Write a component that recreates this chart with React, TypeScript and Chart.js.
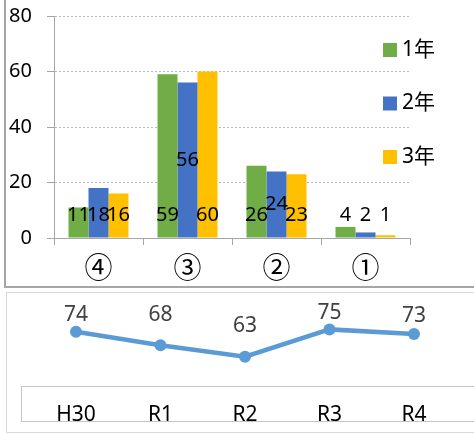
import React, { useEffect, useRef } from "react";
import { Chart, registerables } from "chart.js";

Chart.register(...registerables);

// ---- Data ----
const categories = ["④", "③", "②", "①"];
const seriesNames = ["1年", "2年", "3年"];
const year1 = [11, 59, 26, 4];
const year2 = [18, 56, 24, 2];
const year3 = [16, 60, 23, 1];
const yTicks = [0, 20, 40, 60, 80];

const lineLabels = ["H30", "R1", "R2", "R3", "R4"];
const lineValues = [74, 68, 63, 75, 73];

// ---- Styles ----
const COLORS = ["#70AD47", "#4472C4", "#FFC000"];
const LINE_COLOR = "#5B9BD5";
const FONT = "'Noto Sans', 'Noto Sans CJK JP', sans-serif";
const CJK_FONT = "'Noto Sans CJK JP', sans-serif";
// label placement (value units for bar labels; centered ones sit mid-bar)
const LABEL_BASE_VALUE = 8.3;
const LABEL_CENTERED = [
  [false, false, false, false],
  [false, true, true, false],
  [false, false, false, false],
];
// line label lift above point (px)
const LINE_LABEL_RAISE = [17, 30, 31, 16.5, 18];

const barLabelsPlugin = {
  id: "barLabels",
  afterDatasetsDraw(chart: any) {
    const { ctx } = chart;
    const y = chart.scales.y;
    ctx.save();
    ctx.font = `20px ${FONT}`;
    ctx.fillStyle = "#000";
    ctx.textAlign = "center";
    ctx.textBaseline = "middle";
    chart.data.datasets.forEach((ds: any, di: number) => {
      const meta = chart.getDatasetMeta(di);
      meta.data.forEach((bar: any, i: number) => {
        const v = ds.data[i];
        const py = LABEL_CENTERED[di][i]
          ? y.getPixelForValue(v / 2)
          : y.getPixelForValue(LABEL_BASE_VALUE);
        ctx.fillText(String(v), bar.x, py);
      });
    });
    ctx.restore();
  },
};

const legendPlugin = {
  id: "customLegend",
  afterDraw(chart: any) {
    const { ctx, chartArea } = chart;
    ctx.save();
    ctx.font = `21px ${FONT}`;
    ctx.textAlign = "left";
    ctx.textBaseline = "middle";
    chart.data.datasets.forEach((ds: any, i: number) => {
      const bx = chartArea.right - 27;
      const cy = 50 + i * 53.5;
      ctx.fillStyle = ds.backgroundColor;
      ctx.fillRect(bx, cy - 7, 14, 14);
      ctx.fillStyle = "#000";
      ctx.fillText(ds.label, bx + 19, cy);
    });
    ctx.restore();
  },
};

const lineLabelsPlugin = {
  id: "lineLabels",
  afterDatasetsDraw(chart: any) {
    const { ctx } = chart;
    ctx.save();
    ctx.font = `21px ${FONT}`;
    ctx.fillStyle = "#404040";
    ctx.textAlign = "center";
    ctx.textBaseline = "middle";
    const meta = chart.getDatasetMeta(0);
    meta.data.forEach((pt: any, i: number) => {
      ctx.fillText(String(chart.data.datasets[0].data[i]), pt.x, pt.y - LINE_LABEL_RAISE[i]);
    });
    ctx.restore();
  },
};

export default function App() {
  const barRef = useRef<HTMLCanvasElement>(null);
  const lineRef = useRef<HTMLCanvasElement>(null);

  useEffect(() => {
    const seriesData = [year1, year2, year3];
    const bar = new Chart(barRef.current as HTMLCanvasElement, {
      type: "bar",
      data: {
        labels: categories,
        datasets: seriesNames.map((name, i) => ({
          label: name,
          data: seriesData[i],
          backgroundColor: COLORS[i],
          borderWidth: 0,
          categoryPercentage: 0.674,
          barPercentage: 1,
        })),
      },
      options: {
        animation: false,
        responsive: false,
        devicePixelRatio: 1,
        layout: { padding: { top: 16, right: 64, bottom: 0, left: 0 } },
        plugins: { legend: { display: false }, tooltip: { enabled: false } },
        scales: {
          x: {
            grid: {
              display: true,
              drawOnChartArea: false,
              drawTicks: true,
              tickLength: 7,
              tickColor: "#a6a6a6",
            },
            border: { display: true, color: "#a6a6a6", width: 1 },
            ticks: {
              color: "#000",
              font: { size: 28, family: CJK_FONT },
              padding: 6,
            },
            afterFit: (s: any) => {
              s.height = 50;
            },
          },
          y: {
            min: 0,
            max: 80,
            afterBuildTicks: (s: any) => {
              s.ticks = yTicks.map((v) => ({ value: v }));
            },
            grid: {
              color: (c: any) => (c.tick && c.tick.value === 0 ? "rgba(0,0,0,0)" : "#b8b8b8"),
              tickColor: "#a6a6a6",
              tickLength: 7,
              tickBorderDash: [],
            },
            border: { display: true, color: "#a6a6a6", width: 1, dash: [2, 2] },
            ticks: {
              color: "#000",
              font: { size: 20, family: FONT },
              padding: 15,
            },
            afterFit: (s: any) => {
              s.width = 54;
              s.paddingTop = 0;
              s.paddingBottom = 0;
            },
          },
        },
      },
      plugins: [barLabelsPlugin, legendPlugin],
    } as any);

    const line = new Chart(lineRef.current as HTMLCanvasElement, {
      type: "line",
      data: {
        labels: lineLabels,
        datasets: [
          {
            label: "",
            data: lineValues,
            borderColor: LINE_COLOR,
            backgroundColor: LINE_COLOR,
            borderWidth: 4.5,
            pointRadius: 6,
            pointBackgroundColor: LINE_COLOR,
            pointBorderWidth: 0,
            tension: 0,
          },
        ],
      },
      options: {
        animation: false,
        responsive: false,
        devicePixelRatio: 1,
        layout: { padding: { top: 30, right: 17.75, bottom: 0, left: 33.75 } },
        plugins: { legend: { display: false }, tooltip: { enabled: false } },
        scales: {
          x: {
            offset: true,
            grid: { display: false },
            border: { display: false },
            ticks: {
              color: "#000",
              font: { size: 21, family: FONT },
              padding: 8,
            },
            afterFit: (s: any) => {
              s.height = 146 - 98.3;
            },
          },
          y: {
            display: false,
            min: 50,
            max: 80,
          },
        },
      },
      plugins: [lineLabelsPlugin],
    } as any);

    return () => {
      bar.destroy();
      line.destroy();
    };
  }, []);

  return (
    <div style={{ position: "absolute", left: 0, top: 0, width: 474, height: 434, overflow: "hidden", background: "#fff" }}>
      <div
        style={{
          position: "absolute",
          left: 4,
          top: -20,
          width: 520,
          height: 308,
          boxSizing: "border-box",
          border: "2px solid #a6a6a6",
        }}
      />
      <div
        style={{
          position: "absolute",
          left: 6,
          top: 292,
          width: 520,
          height: 141,
          boxSizing: "border-box",
          border: "1px solid #d9d9d9",
        }}
      />
      <div
        style={{
          position: "absolute",
          left: 21,
          top: 386,
          width: 520,
          height: 36,
          boxSizing: "border-box",
          border: "1px solid #c4c4c4",
        }}
      />
      <canvas ref={barRef} width={474} height={288} style={{ position: "absolute", left: 0, top: 0 }} />
      <canvas ref={lineRef} width={474} height={146} style={{ position: "absolute", left: 0, top: 288 }} />
    </div>
  );
}
